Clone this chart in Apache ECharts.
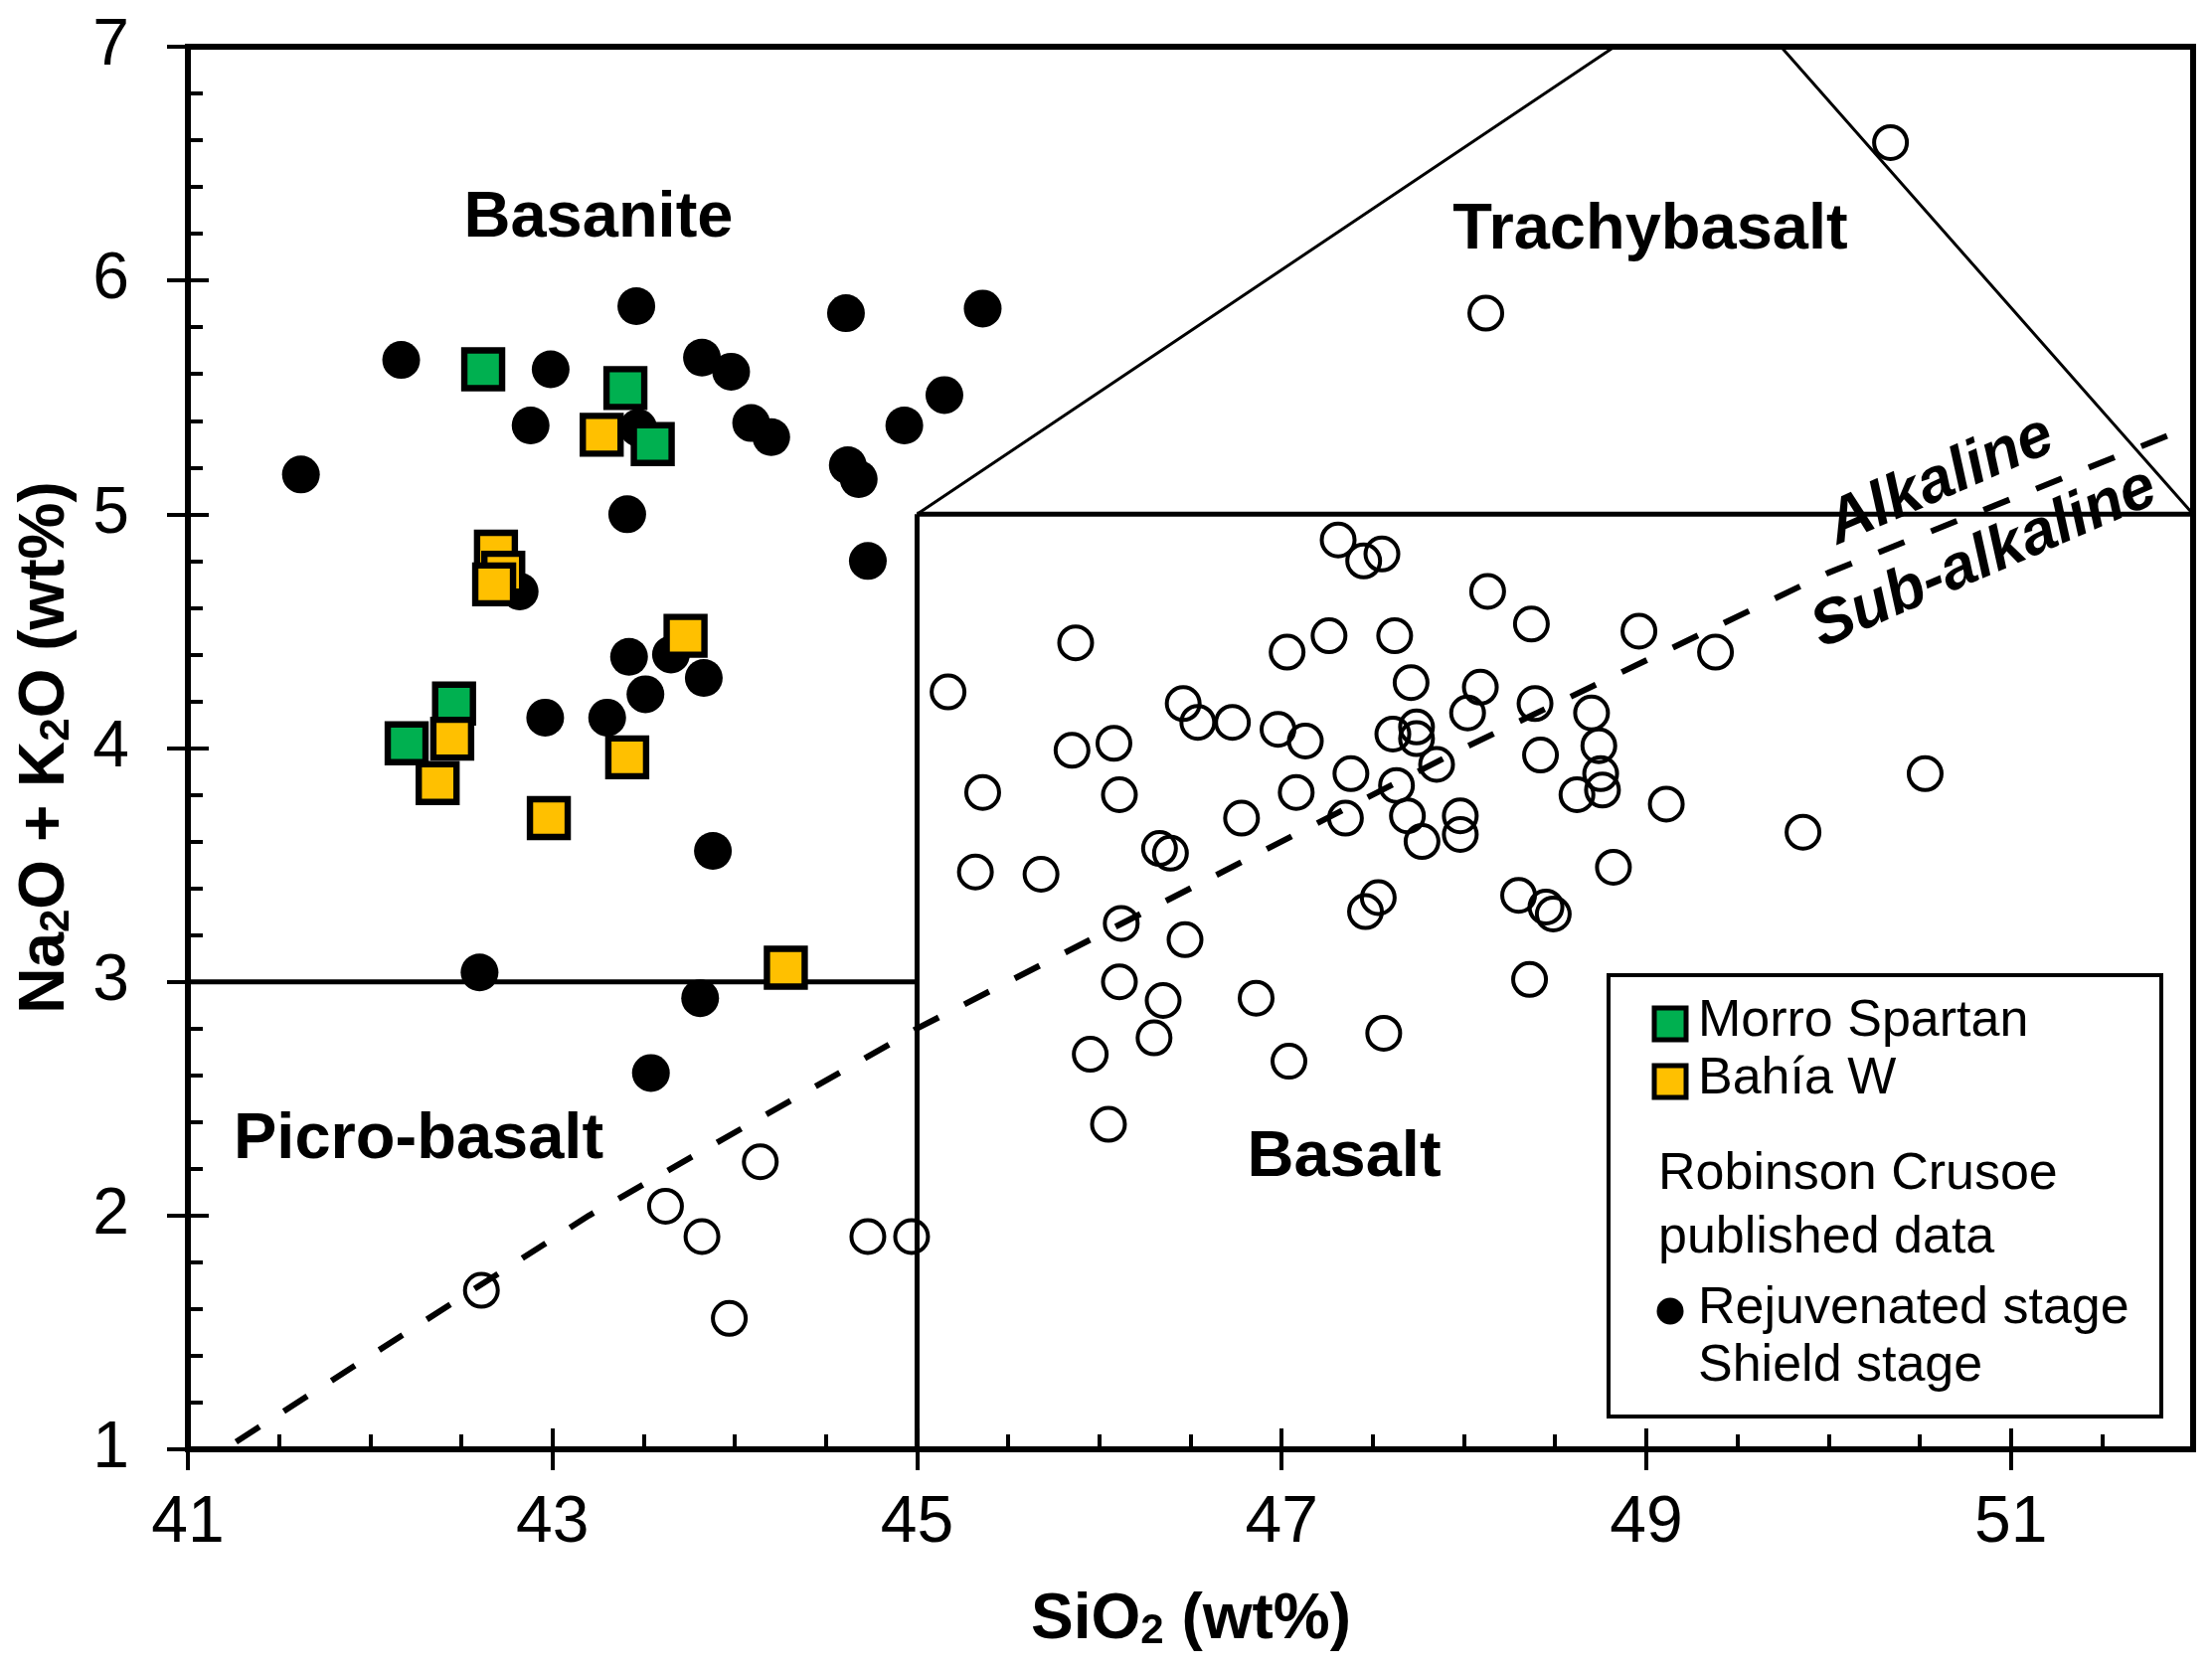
<!DOCTYPE html>
<html>
<head>
<meta charset="utf-8">
<script src="https://cdn.jsdelivr.net/npm/echarts@6/dist/echarts.min.js"></script>
<style>
html,body{margin:0;padding:0;background:#fff;}
#chart{width:2225px;height:1679px;}
</style>
</head>
<body>
<div id="chart"></div>
<script>
// ---- Axis ticks ----
const xMajorTicks = [41, 43, 45, 47, 49, 51];
const yMajorTicks = [1, 2, 3, 4, 5, 6, 7];

// ---- Robinson Crusoe published data: Rejuvenated stage (filled circles) ----
const rejuvenatedStage = [
  [41.62,5.17],[42.17,5.66],[42.99,5.62],[43.46,5.89],[42.88,5.38],[43.47,5.37],
  [43.82,5.67],[43.98,5.61],[44.09,5.39],[44.20,5.33],[44.61,5.86],[44.62,5.21],
  [44.68,5.15],[44.93,5.38],[45.15,5.51],[45.36,5.88],[43.41,5.00],[44.73,4.80],
  [42.82,4.67],[43.42,4.39],[43.65,4.40],[43.83,4.30],[43.51,4.23],[42.96,4.13],
  [43.30,4.13],[43.88,3.56],[42.60,3.04],[43.81,2.93],[43.54,2.61]
];

// ---- Robinson Crusoe published data: Shield stage (open circles) ----
const shieldStage = [
  [45.17,4.24],[45.87,4.45],[45.36,3.81],[45.32,3.47],[45.68,3.46],[45.85,3.99],
  [46.08,4.02],[46.11,3.80],[46.46,4.19],[46.54,4.11],[46.73,4.11],[47.03,4.41],
  [47.26,4.48],[47.31,4.89],[47.45,4.80],[47.55,4.83],[46.98,4.08],[47.13,4.03],
  [47.38,3.89],[47.08,3.81],[46.78,3.70],[46.33,3.57],[46.39,3.55],[47.35,3.70],
  [47.53,3.36],[47.46,3.30],[46.12,3.25],[46.47,3.18],[46.11,3.00],[46.35,2.92],
  [46.86,2.93],[45.95,2.69],[46.30,2.76],[46.05,2.39],[47.04,2.66],[47.56,2.78],
  [48.13,4.67],[48.37,4.53],[48.96,4.50],[49.38,4.41],[47.62,4.48],[47.71,4.28],
  [48.09,4.26],[48.02,4.15],[48.39,4.19],[48.70,4.15],[47.61,4.06],[47.74,4.09],
  [47.74,4.04],[47.85,3.93],[48.42,3.97],[48.74,4.01],[47.63,3.84],[47.69,3.71],
  [47.77,3.60],[47.98,3.71],[47.98,3.63],[48.62,3.80],[48.76,3.82],[48.75,3.89],
  [49.11,3.76],[49.86,3.64],[48.82,3.49],[48.30,3.37],[48.45,3.32],[48.49,3.29],
  [48.36,3.01],[50.53,3.89],[50.34,6.59],[48.12,5.86],
  [42.61,1.68],[44.14,2.23],[43.62,2.04],[43.82,1.91],[43.97,1.56],[44.73,1.91],[44.97,1.91]
];

// ---- This study ----
const morroSpartan = [[42.62,5.62],[43.40,5.54],[43.55,5.30],[42.46,4.19],[42.20,4.02]];
const bahiaW = [
  [43.27,5.34],[42.69,4.84],[42.73,4.75],[42.68,4.70],[43.73,4.48],
  [42.45,4.04],[42.37,3.85],[43.41,3.96],[42.98,3.70],[44.28,3.06]
];

// ---- TAS field boundaries ----
const picroBasaltTop = [[41,3],[45,3]];
const basaltLeft = [[45,1],[45,5]];
const basaltTop = [[45,5],[52,5]];
const trachybasaltEdges = [[45,5],[49.4,7.3],[52,5]];
const alkalineDivide = [[41.2,1.0],[43.2,2.0],[45,2.8],[48,4.0],[50,4.75],[52,5.38]];

const FF = '"Liberation Sans", Arial, Helvetica, sans-serif';
const BLACK = '#000';

const chart = echarts.init(document.getElementById('chart'), null, {renderer: 'canvas'});

function boundary(data, width, dash, dashOffset) {
  return {
    type: 'line', data: data, xAxisIndex: 0, yAxisIndex: 0,
    symbol: 'none', silent: true, clip: true, z: 2,
    lineStyle: {color: BLACK, width: width, type: dash || 'solid', dashOffset: dashOffset || 0, cap: 'butt', opacity: 1},
    animation: false
  };
}

function txt(x, y, text, font, extra) {
  return Object.assign({
    type: 'text', x: x, y: y, z: 100,
    style: {
      text: text, font: font, fill: BLACK,
      align: 'center', verticalAlign: 'middle',
      textAlign: 'center', textVerticalAlign: 'middle'
    }
  }, extra || {});
}
function txtLeft(x, y, text, font) {
  return {
    type: 'text', x: x, y: y, z: 101,
    style: {
      text: text, font: font, fill: BLACK,
      align: 'left', verticalAlign: 'middle',
      textAlign: 'left', textVerticalAlign: 'middle'
    }
  };
}

const tickLine = {color: BLACK, width: 4};
const regionFont = 'bold 65px ' + FF;
const legendFont = '52px ' + FF;
const richTitle = {
  a: {fontSize: 64, fontWeight: 'bold', fontFamily: FF, fill: BLACK, color: BLACK, lineHeight: 64},
  s: {fontSize: 42, fontWeight: 'bold', fontFamily: FF, fill: BLACK, color: BLACK, lineHeight: 16, verticalAlign: 'bottom'}
};

const option = {
  backgroundColor: '#fff',
  animation: false,
  grid: {
    left: 189, right: 19, top: 47, bottom: 221,
    show: true, borderColor: BLACK, borderWidth: 6, backgroundColor: 'transparent'
  },
  xAxis: [
    {
      type: 'value', min: 41, max: 52, interval: 0.5, position: 'bottom', gridIndex: 0,
      axisLine: {show: true, onZero: false, lineStyle: {color: BLACK, width: 6}},
      axisTick: {show: true, inside: true, length: 15, lineStyle: tickLine},
      axisLabel: {show: false}, splitLine: {show: false}
    },
    {
      type: 'value', min: 41, max: 52, position: 'bottom', gridIndex: 0, offset: 0,
      axisLine: {show: false, onZero: false},
      axisTick: {show: true, inside: false, length: 21, customValues: xMajorTicks, lineStyle: tickLine},
      axisLabel: {show: true, customValues: xMajorTicks, margin: 42, fontSize: 66, fontFamily: FF, color: BLACK},
      splitLine: {show: false}
    },
    {
      type: 'value', min: 41, max: 52, position: 'bottom', gridIndex: 0, offset: 0,
      axisLine: {show: false, onZero: false},
      axisTick: {show: true, inside: true, length: 21, customValues: xMajorTicks, lineStyle: tickLine},
      axisLabel: {show: false}, splitLine: {show: false}
    }
  ],
  yAxis: [
    {
      type: 'value', min: 1, max: 7, interval: 0.2, position: 'left', gridIndex: 0,
      axisLine: {show: true, onZero: false, lineStyle: {color: BLACK, width: 6}},
      axisTick: {show: true, inside: true, length: 15, lineStyle: tickLine},
      axisLabel: {show: false}, splitLine: {show: false}
    },
    {
      type: 'value', min: 1, max: 7, position: 'left', gridIndex: 0, offset: 0,
      axisLine: {show: false, onZero: false},
      axisTick: {show: true, inside: false, length: 21, customValues: yMajorTicks, lineStyle: tickLine},
      axisLabel: {show: true, customValues: yMajorTicks, margin: 59, fontSize: 66, fontFamily: FF, color: BLACK},
      splitLine: {show: false}
    },
    {
      type: 'value', min: 1, max: 7, position: 'left', gridIndex: 0, offset: 0,
      axisLine: {show: false, onZero: false},
      axisTick: {show: true, inside: true, length: 21, customValues: yMajorTicks, lineStyle: tickLine},
      axisLabel: {show: false}, splitLine: {show: false}
    }
  ],
  series: [
    boundary(picroBasaltTop, 5),
    boundary(basaltLeft, 5),
    boundary(basaltTop, 5),
    boundary(trachybasaltEdges, 3),
    boundary(alkalineDivide, 6, [28, 29], -14),
    {
      name: 'Shield stage', type: 'scatter', data: shieldStage, xAxisIndex: 0, yAxisIndex: 0,
      symbol: 'circle', symbolSize: 33, z: 3,
      itemStyle: {color: 'rgba(255,255,255,0)', borderColor: BLACK, borderWidth: 4, opacity: 1}
    },
    {
      name: 'Rejuvenated stage', type: 'scatter', data: rejuvenatedStage, xAxisIndex: 0, yAxisIndex: 0,
      symbol: 'circle', symbolSize: 38, z: 4,
      itemStyle: {color: BLACK, borderWidth: 0, opacity: 1}
    },
    {
      name: 'Morro Spartan', type: 'scatter', data: morroSpartan, xAxisIndex: 0, yAxisIndex: 0,
      symbol: 'rect', symbolSize: 38, z: 5,
      itemStyle: {color: '#00B050', borderColor: BLACK, borderWidth: 6.4, opacity: 1}
    },
    {
      name: 'Bahía W', type: 'scatter', data: bahiaW, xAxisIndex: 0, yAxisIndex: 0,
      symbol: 'rect', symbolSize: 38, z: 5,
      itemStyle: {color: '#FFC000', borderColor: BLACK, borderWidth: 6.4, opacity: 1}
    }
  ],
  graphic: [
    // field names
    txt(602, 220, 'Basanite', regionFont),
    txt(1660, 232, 'Trachybasalt', regionFont),
    txt(421, 1147, 'Picro-basalt', regionFont),
    txt(1352, 1165, 'Basalt', regionFont),
    txt(1952, 484, 'Alkaline', 'italic bold 63px ' + FF, {rotation: 23.5 * Math.PI / 180}),
    txt(1996, 562, 'Sub-alkaline', 'italic bold 63px ' + FF, {rotation: 23.5 * Math.PI / 180}),
    // axis titles
    {
      type: 'text', x: 1198, y: 1630, z: 100,
      style: {
        text: '{a|SiO}{s|2}{a| (wt%)}',
        align: 'center', verticalAlign: 'middle', textAlign: 'center', textVerticalAlign: 'middle',
        rich: richTitle
      }
    },
    {
      type: 'text', x: 46, y: 752, z: 100, rotation: Math.PI / 2,
      style: {
        text: '{a|Na}{s|2}{a|O + K}{s|2}{a|O (wt%)}',
        align: 'center', verticalAlign: 'middle', textAlign: 'center', textVerticalAlign: 'middle',
        rich: richTitle
      }
    },
    // legend box
    {
      type: 'rect', z: 99,
      shape: {x: 1618, y: 981, width: 556, height: 444},
      style: {fill: '#fff', stroke: BLACK, lineWidth: 4}
    },
    {
      type: 'rect', z: 101,
      shape: {x: 1664, y: 1014, width: 32, height: 32},
      style: {fill: '#00B050', stroke: BLACK, lineWidth: 5}
    },
    txtLeft(1708, 1028, 'Morro Spartan', legendFont),
    {
      type: 'rect', z: 101,
      shape: {x: 1664, y: 1072, width: 32, height: 32},
      style: {fill: '#FFC000', stroke: BLACK, lineWidth: 5}
    },
    txtLeft(1708, 1086, 'Bahía W', legendFont),
    txtLeft(1668, 1182, 'Robinson Crusoe', legendFont),
    txtLeft(1668, 1246, 'published data', legendFont),
    {
      type: 'circle', z: 101,
      shape: {cx: 1680, cy: 1319, r: 13.5},
      style: {fill: BLACK}
    },
    txtLeft(1708, 1317, 'Rejuvenated stage', legendFont),
    txtLeft(1708, 1375, 'Shield stage', legendFont)
  ]
};

chart.setOption(option);
</script>
</body>
</html>
